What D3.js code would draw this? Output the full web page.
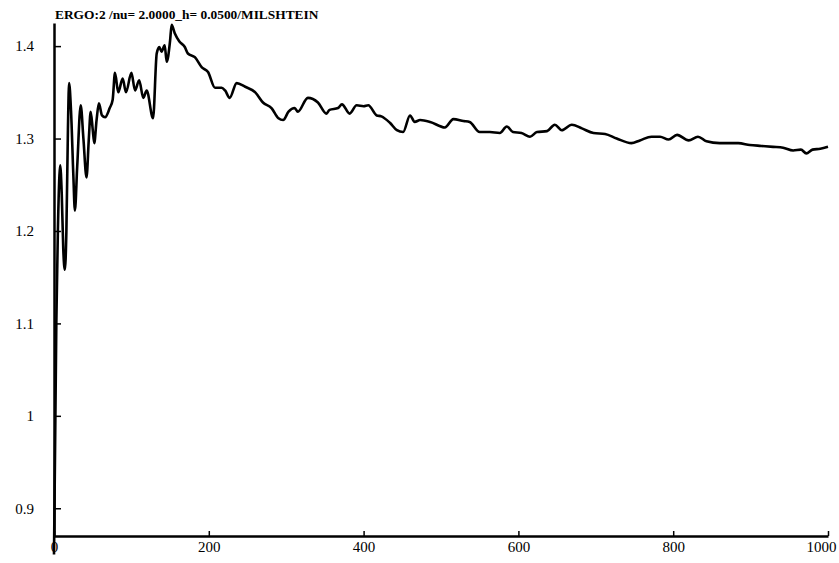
<!DOCTYPE html>
<html>
<head>
<meta charset="utf-8">
<script src="https://cdnjs.cloudflare.com/ajax/libs/d3/7.8.5/d3.min.js"></script>
<style>
  body { margin: 0; background: #fff; }
  svg { display: block; }
  .axis path, .axis line { stroke: #000; }
  .axis text { font-size: 15px; fill: #000; }
</style>
</head>
<body>
<div id="chart"></div>
<script>
// chart data
const title = "ERGO:2 /nu= 2.0000_h= 0.0500/MILSHTEIN"

const steps = [
  0, 3, 5, 7, 8, 10, 12, 14, 16, 18, 19.5, 22, 25, 27, 30, 34.5, 38, 42, 45, 47.4,
  50, 52, 55, 58, 62, 66, 72, 75.8, 78.8, 83, 88.7, 93, 100, 104.7, 110, 115.4,
  119.7, 128, 132.7, 136, 139, 143, 145.6, 150, 152, 156, 162, 169, 173, 182, 191,
  199, 208, 216.6, 221, 227, 236, 247, 260, 270, 281, 290, 296, 303, 311, 315,
  328, 341, 352, 356, 367, 372, 382, 391, 400, 406, 417, 423, 434, 443, 451,
  460, 466, 473, 486, 505, 516, 529, 537, 550, 563, 576, 585, 593, 604, 615,
  624, 637, 647, 656, 669, 682, 697, 712, 727, 746, 757, 772, 783, 794, 805,
  820, 832, 843, 860, 871, 884, 899, 914, 929, 942, 955, 965, 972, 980, 990, 1000
]

const values = [
  0.85, 1.10, 1.20, 1.26, 1.271, 1.24, 1.18, 1.158, 1.20, 1.31, 1.36, 1.33, 1.26, 1.222, 1.27, 1.336, 1.30, 1.258, 1.30, 1.329,
  1.31, 1.295, 1.32, 1.338, 1.325, 1.323, 1.333, 1.342, 1.371, 1.350, 1.365, 1.350, 1.371, 1.352, 1.363, 1.344,
  1.352, 1.322, 1.392, 1.399, 1.394, 1.401, 1.383, 1.406, 1.423, 1.414, 1.405, 1.399, 1.392, 1.388, 1.377,
  1.372, 1.355, 1.355, 1.352, 1.344, 1.360, 1.356, 1.350, 1.339, 1.333, 1.322, 1.320, 1.329, 1.333, 1.329,
  1.344, 1.339, 1.327, 1.331, 1.333, 1.337, 1.327, 1.336, 1.335, 1.336, 1.325, 1.324, 1.317, 1.309, 1.307,
  1.325, 1.318, 1.320, 1.318, 1.312, 1.321, 1.319, 1.318, 1.307, 1.307, 1.306, 1.313, 1.307, 1.306, 1.302,
  1.307, 1.308, 1.315, 1.309, 1.315, 1.311, 1.306, 1.305, 1.300, 1.295, 1.298, 1.302, 1.302, 1.299, 1.304,
  1.298, 1.302, 1.297, 1.295, 1.295, 1.295, 1.293, 1.292, 1.291, 1.290, 1.287, 1.288, 1.284, 1.288, 1.289, 1.291
]

const xTicks = [0, 200, 400, 600, 800, 1000]
const yTicks = [0.9, 1, 1.1, 1.2, 1.3, 1.4]

const FONT = "'Liberation Serif', 'DejaVu Serif', serif"
const MARGIN = { LEFT: 54, RIGHT: 11, TOP: 23, BOTTOM: 27 }
const WIDTH = 839 - MARGIN.LEFT - MARGIN.RIGHT
const HEIGHT = 563 - MARGIN.TOP - MARGIN.BOTTOM

const svg = d3.select("#chart").append("svg")
  .attr("width", 839)
  .attr("height", 563)

const g = svg.append("g")
  .attr("transform", `translate(${MARGIN.LEFT}, ${MARGIN.TOP})`)

const x = d3.scaleLinear().domain([0, 1000]).range([0, WIDTH])
const y = d3.scaleLinear().domain([0.87, 1.425]).range([HEIGHT, 0])

const data = steps.map((s, i) => ({ t: s, v: values[i] }))

const line = d3.line()
  .x(d => x(d.t))
  .y(d => y(d.v))
  .curve(d3.curveMonotoneX)

g.append("path")
  .datum(data)
  .attr("fill", "none")
  .attr("stroke", "#000")
  .attr("stroke-width", 2.6)
  .attr("stroke-linejoin", "round")
  .attr("d", line)

// axes, ticks point inward
const xAxis = g.append("g")
  .attr("class", "x axis")
  .attr("transform", `translate(0, ${HEIGHT})`)
  .call(d3.axisBottom(x).tickValues(xTicks).tickFormat(d3.format("d"))
    .tickSizeInner(-5).tickSizeOuter(0).tickPadding(5))
  .attr("font-family", FONT)
xAxis.select(".domain").attr("stroke-width", 2.5)
xAxis.selectAll(".tick line").attr("stroke-width", 1.5)
// last label sits a bit left so it stays inside the page
xAxis.selectAll(".tick text").filter(d => d === 1000).attr("dx", -7)

const yAxis = g.append("g")
  .attr("class", "y axis")
  .call(d3.axisLeft(y).tickValues(yTicks).tickFormat(d3.format(""))
    .tickSizeInner(-7).tickSizeOuter(0).tickPadding(20))
  .attr("font-family", FONT)
yAxis.select(".domain").attr("stroke-width", 2.5)
yAxis.selectAll(".tick line").attr("stroke-width", 1.5)

svg.append("text")
  .attr("x", 55)
  .attr("y", 19)
  .attr("font-family", FONT)
  .attr("font-size", "13.4px")
  .attr("font-weight", "bold")
  .text(title)
</script>
</body>
</html>
